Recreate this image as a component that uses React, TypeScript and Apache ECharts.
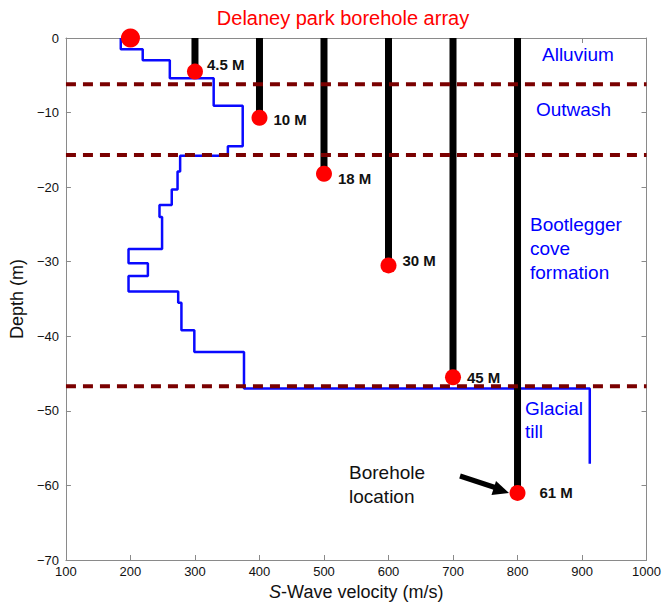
import React, { useEffect, useRef } from "react";
import * as echarts from "echarts";

// Velocity ticks / axis ranges
const velocityTicks = [100, 200, 300, 400, 500, 600, 700, 800, 900, 1000];
const depthTicks = [-70, -60, -50, -40, -30, -20, -10, 0];

// Shear-wave velocity profile: layer velocity and layer bottom depth
const layerVelocity = [185, 219, 261, 329, 374, 351, 277, 273, 264, 245, 249, 197, 227, 197, 274, 279, 299, 376, 912];
const layerBottom = [-1.5, -3.0, -5.4, -9.1, -14.5, -15.8, -17.9, -20.3, -22.4, -24.0, -28.3, -30.2, -31.9, -34.0, -35.5, -39.2, -42.1, -47.0, -57.1];

// Boreholes
const boreholeVelocity = [300, 400, 500, 600, 700, 800];
const boreholeDepth = [-4.5, -10.7, -18.2, -30.5, -45.5, -61.0];
const boreholeLabels = ["4.5 M", "10 M", "18 M", "30 M", "45 M", "61 M"];
const surfacePoint = [200, 0];

// Layer boundaries
const boundaryDepths = [-6.2, -15.7, -46.7];

const FONT = "'Liberation Sans', Arial, Helvetica, sans-serif";

export default function App() {
  const ref = useRef<HTMLDivElement>(null);

  useEffect(() => {
    document.body.style.margin = "0";
    if (!ref.current) return;
    const chart = echarts.init(ref.current, undefined, { renderer: "svg" });

    const profile: number[][] = [[layerVelocity[0], 0]];
    layerVelocity.forEach((v, i) => {
      profile.push([v, layerBottom[i]]);
      if (i + 1 < layerVelocity.length) profile.push([layerVelocity[i + 1], layerBottom[i]]);
    });

    const frameColor = "#8a8a8a";
    const baseAxis = {
      type: "value" as const,
      splitLine: { show: false },
      axisLine: { show: true, onZero: false, lineStyle: { color: frameColor, width: 1 } },
      axisTick: { show: true, inside: true, length: 5, lineStyle: { color: frameColor } },
    };

    const barSeries = boreholeVelocity.map((v, i) => ({
      type: "line",
      data: [[v, 0], [v, boreholeDepth[i]]],
      showSymbol: false,
      symbol: "none",
      lineStyle: { color: "#000", width: 7, cap: "butt" },
      z: 3,
      silent: true,
    }));

    const boundarySeries = boundaryDepths.map((d) => ({
      type: "line",
      data: [[velocityTicks[0], d], [velocityTicks[velocityTicks.length - 1], d]],
      showSymbol: false,
      symbol: "none",
      lineStyle: { color: "#7a0000", width: 4, type: [10, 7] },
      z: 4,
      silent: true,
    }));

    const labelOffsets = [[0, -7], [2, 2], [2, 5], [2, -5], [2, 0], [10, 0]];

    chart.setOption({
      animation: false,
      textStyle: { fontFamily: FONT },
      grid: { left: 63, right: 16, top: 38, bottom: 47, containLabel: false },
      xAxis: [
        {
          ...baseAxis,
          min: velocityTicks[0],
          max: velocityTicks[velocityTicks.length - 1],
          interval: 100,
          position: "bottom",
          axisLabel: { color: "#111", fontSize: 13, margin: 5, fontFamily: FONT, formatter: (val: number) => String(val) },
          name: "{i|S}-Wave velocity (m/s)",
          nameLocation: "middle",
          nameGap: 22,
          nameTextStyle: {
            color: "#111",
            fontSize: 18,
            fontFamily: FONT,
            rich: { i: { fontStyle: "italic", fontSize: 18, color: "#111", fontFamily: FONT } },
          },
        },
        {
          ...baseAxis,
          min: velocityTicks[0],
          max: velocityTicks[velocityTicks.length - 1],
          interval: 100,
          position: "top",
          axisLabel: { show: false },
        },
      ],
      yAxis: [
        {
          ...baseAxis,
          min: depthTicks[0],
          max: depthTicks[depthTicks.length - 1],
          interval: 10,
          position: "left",
          axisLabel: {
            color: "#111",
            fontSize: 13,
            margin: 7,
            fontFamily: FONT,
            formatter: (val: number) => String(val).replace("-", "\u2212"),
          },
          name: "Depth (m)",
          nameLocation: "middle",
          nameGap: 37,
          nameRotate: 90,
          nameTextStyle: { color: "#111", fontSize: 18, fontFamily: FONT },
        },
        {
          ...baseAxis,
          min: depthTicks[0],
          max: depthTicks[depthTicks.length - 1],
          interval: 10,
          position: "right",
          axisLabel: { show: false },
        },
      ],
      series: [
        {
          type: "line",
          data: profile,
          showSymbol: false,
          symbol: "none",
          lineStyle: { color: "#0a0aff", width: 2.5 },
          z: 2,
          silent: true,
        },
        ...barSeries,
        ...boundarySeries,
        {
          type: "scatter",
          data: boreholeVelocity.map((v, i) => ({
            value: [v, boreholeDepth[i]],
            label: {
              show: true,
              formatter: boreholeLabels[i],
              position: "right",
              distance: 4,
              offset: labelOffsets[i],
              color: "#111",
              fontSize: 15,
              fontWeight: "bold",
              fontFamily: FONT,
            },
          })),
          symbol: "circle",
          symbolSize: 16,
          itemStyle: { color: "#ff0000", opacity: 1 },
          clip: false,
          z: 6,
          silent: true,
        },
        {
          type: "scatter",
          data: [surfacePoint],
          symbol: "circle",
          symbolSize: 19,
          itemStyle: { color: "#ff0000", opacity: 1 },
          clip: false,
          z: 6,
          silent: true,
        },
      ],
      graphic: [
        {
          type: "text",
          x: 343,
          y: 18,
          style: { text: "Delaney park borehole array", fill: "#ff0000", fontSize: 20, fontFamily: FONT, textAlign: "center", textVerticalAlign: "middle" },
        },
        {
          type: "text",
          x: 542,
          y: 54,
          style: { text: "Alluvium", fill: "#0000ff", fontSize: 19, fontFamily: FONT, textAlign: "left", textVerticalAlign: "middle" },
        },
        {
          type: "text",
          x: 536,
          y: 109,
          style: { text: "Outwash", fill: "#0000ff", fontSize: 19, fontFamily: FONT, textAlign: "left", textVerticalAlign: "middle" },
        },
        {
          type: "text",
          x: 530,
          y: 248,
          style: { text: "Bootlegger\ncove\nformation", fill: "#0000ff", fontSize: 19, lineHeight: 24, fontFamily: FONT, textAlign: "left", textVerticalAlign: "middle" },
        },
        {
          type: "text",
          x: 525,
          y: 420,
          style: { text: "Glacial\ntill", fill: "#0000ff", fontSize: 19, lineHeight: 23, fontFamily: FONT, textAlign: "left", textVerticalAlign: "middle" },
        },
        {
          type: "text",
          x: 349,
          y: 484,
          style: { text: "Borehole\nlocation", fill: "#111", fontSize: 19, lineHeight: 24, fontFamily: FONT, textAlign: "left", textVerticalAlign: "middle" },
        },
        {
          type: "line",
          shape: { x1: 460, y1: 476, x2: 495, y2: 487.5 },
          style: { stroke: "#000", lineWidth: 5 },
        },
        {
          type: "polygon",
          shape: { points: [[509, 493], [496, 481], [491.5, 495]] },
          style: { fill: "#000" },
        },
      ],
    });

    return () => chart.dispose();
  }, []);

  return <div ref={ref} style={{ width: 664, height: 607 }} />;
}
